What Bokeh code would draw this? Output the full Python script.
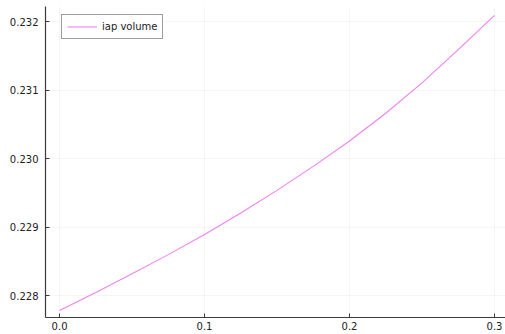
from bokeh.plotting import figure
from bokeh.models import FixedTicker, PrintfTickFormatter, Range1d, Legend, LegendItem
from bokeh.embed import file_html
from bokeh.resources import INLINE

# sampled iap volume along the parameter
t = [0.0, 0.025, 0.05, 0.075, 0.1, 0.125, 0.15, 0.175, 0.2, 0.225, 0.25, 0.275, 0.3]
iap_volume = [0.227780, 0.228045, 0.228317, 0.228597, 0.228890, 0.229205, 0.229535,
              0.229885, 0.230255, 0.230660, 0.231105, 0.231590, 0.232090]
x_ticks = [0.0, 0.1, 0.2, 0.3]
y_ticks = [0.228, 0.229, 0.230, 0.231, 0.232]

p = figure(width=505, height=334, output_backend="svg", toolbar_location=None,
           x_range=Range1d(-0.0097, 0.3076), y_range=Range1d(0.227679, 0.232219),
           min_border_left=45, min_border_right=0, min_border_top=6, min_border_bottom=17)
p.outline_line_color = None
p.background_fill_color = "white"
p.border_fill_color = "white"

r = p.line(t, iap_volume, line_color="violet", line_width=1.1)

for ax, ticks, fmt in ((p.xaxis[0], x_ticks, "%.1f"), (p.yaxis[0], y_ticks, "%.3f")):
    ax.ticker = FixedTicker(ticks=ticks)
    ax.formatter = PrintfTickFormatter(format=fmt)
    ax.axis_line_color = "#3a3a3a"
    ax.axis_line_width = 1.2
    ax.major_tick_in = 4
    ax.major_tick_out = 0
    ax.major_tick_line_color = "#3a3a3a"
    ax.minor_tick_line_color = None
    ax.major_label_text_font = "DejaVu Sans"
    ax.major_label_text_font_size = "10px"
    ax.major_label_text_color = "#222222"
p.yaxis[0].major_label_standoff = 7
p.xaxis[0].major_label_standoff = 4

p.xgrid.ticker = FixedTicker(ticks=x_ticks)
p.ygrid.ticker = FixedTicker(ticks=y_ticks)
for g in (p.xgrid[0], p.ygrid[0]):
    g.grid_line_color = "black"
    g.grid_line_alpha = 0.07
    g.grid_line_width = 0.6

legend = Legend(items=[LegendItem(label="iap volume", renderers=[r])],
                location=(16, 278), padding=5, margin=0, spacing=0,
                glyph_width=30, glyph_height=13, label_height=13, label_standoff=5,
                label_text_font="DejaVu Sans", label_text_font_size="10px",
                label_text_color="#222222",
                border_line_color="#3a3a3a", border_line_width=1,
                background_fill_color="white", background_fill_alpha=1.0)
p.add_layout(legend)

open("out.html", "w").write(file_html(p, INLINE))
